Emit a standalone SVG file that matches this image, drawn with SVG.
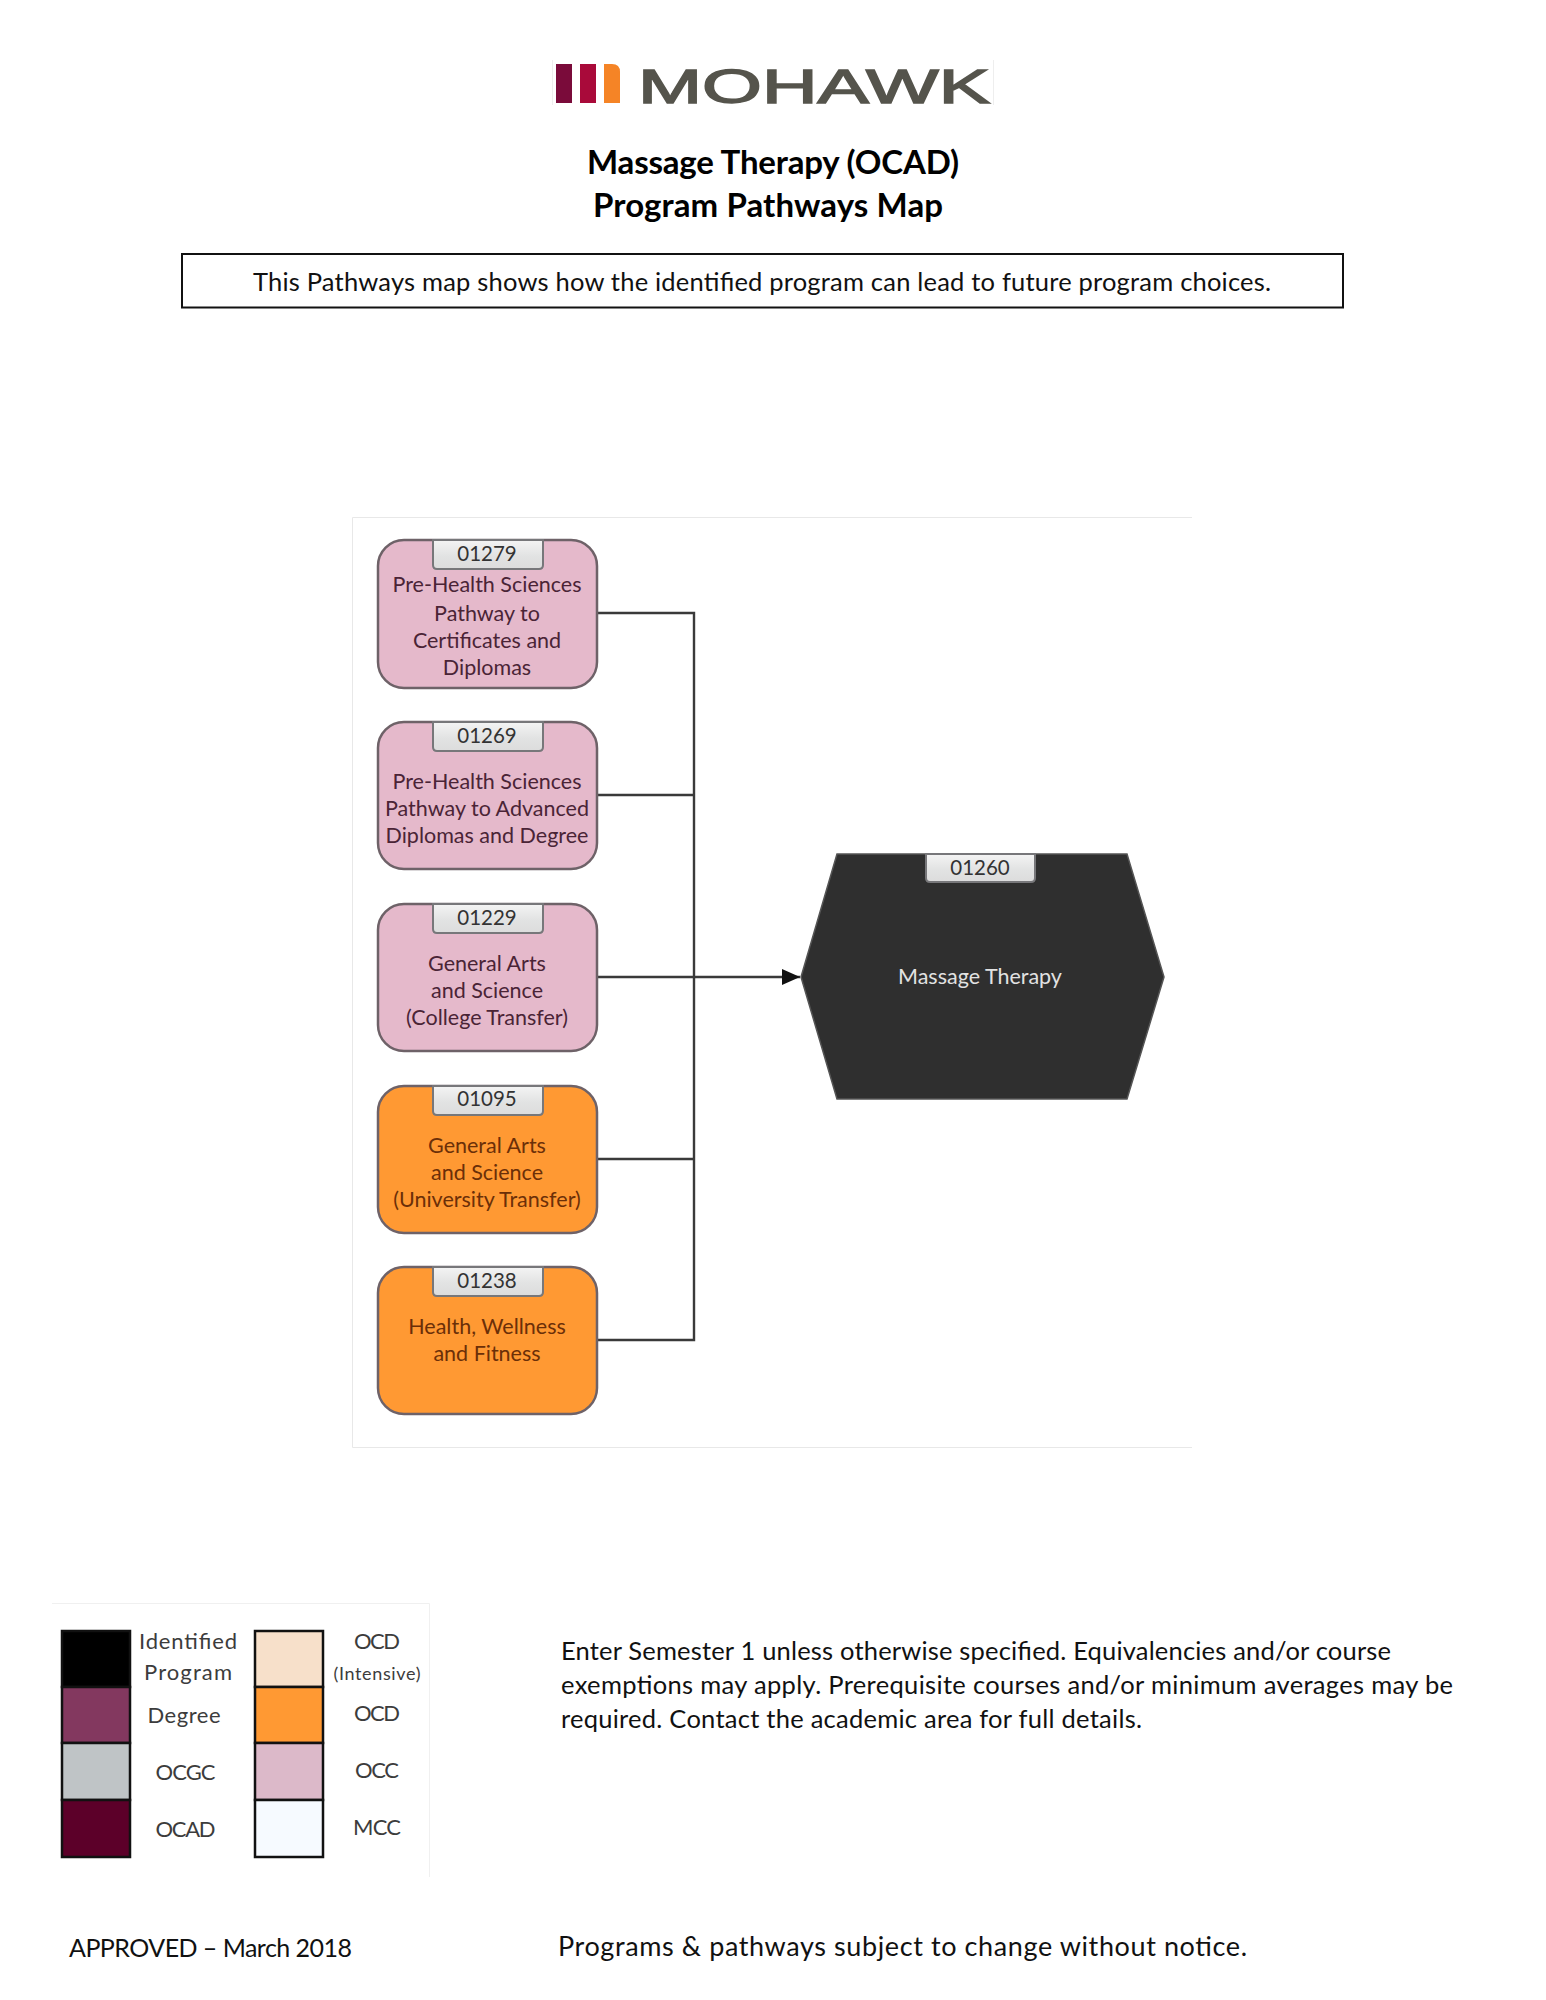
<svg xmlns="http://www.w3.org/2000/svg" width="1546" height="2000" viewBox="0 0 1546 2000">
<style>
text{font-family:Lato,"Liberation Sans",sans-serif}
.node{stroke:#6e6268;stroke-width:2.5}
.pink{fill:#e5b9cb}
.orange{fill:#ff9933}
.tab{fill:url(#tabg);stroke:#77777a;stroke-width:2}
.tabt{font-size:20.500px;fill:#333;text-anchor:middle}
.nt{font-size:21.500px;text-anchor:middle;fill:#4a2436}
.ot{font-size:21.500px;text-anchor:middle;fill:#6b2f08}
.conn{fill:none;stroke:#3a3a3a;stroke-width:2.4}
.sw{stroke:#111;stroke-width:2.5}
.lg{font-size:22px;fill:#3c3c3c;text-anchor:middle}
.body{font-size:25.500px;fill:#111}
.title{font-size:33px;font-weight:700;fill:#000;text-anchor:middle}
</style>
<defs>
<linearGradient id="tabg" x1="0" y1="0" x2="0" y2="1"><stop offset="0" stop-color="#f4f4f4"/><stop offset=".55" stop-color="#e2e3e3"/><stop offset="1" stop-color="#dcdcdc"/></linearGradient>
<marker id="arr" markerUnits="userSpaceOnUse" markerWidth="20" markerHeight="18" refX="19" refY="9" orient="auto"><path d="M1 1 L19 9 L1 17 Z" fill="#111"/></marker>
</defs>
<rect width="1546" height="2000" fill="#fff"/>
<g id="logo">
<path d="M552.500 60V105M993.500 60V105" stroke="#eeeeee" fill="none"/>
<rect x="556" y="64" width="16" height="39" fill="#7a0b3a"/>
<rect x="580" y="64" width="16" height="39" fill="#a90a3a"/>
<path d="M604 64H612Q620 64 620 72V103H604Z" fill="#f58426"/>
<text x="638" y="103" font-size="49" textLength="352" lengthAdjust="spacingAndGlyphs" style="font-family:'Liberation Sans',sans-serif" fill="#55544c" stroke="#55544c" stroke-width="1.500">MOHAWK</text>
</g>
<g id="title">
<text class="title" x="773" y="174" textLength="372">Massage Therapy (OCAD)</text>
<text class="title" x="768" y="217" textLength="350">Program Pathways Map</text>
</g>
<g id="intro">
<rect x="182" y="254" width="1161" height="53.500" fill="#fff" stroke="#111" stroke-width="2"/>
<text class="body" x="762" y="291" text-anchor="middle" textLength="1018">This Pathways map shows how the identified program can lead to future program choices.</text>
</g>
<path id="panel" d="M1192 517.500H352.500V1447.500H1192" fill="none" stroke="#e8e8e8"/>
<g id="connectors">
<path class="conn" d="M598 613H694V1340H598"/>
<path class="conn" d="M598 795H694M598 1159H694"/>
<path class="conn" d="M598 977H800" marker-end="url(#arr)"/>
</g>
<g id="n01279">
<rect class="node pink" x="378" y="540" width="219" height="148" rx="26"/>
<path class="tab" d="M433 540V565Q433 569 437 569H539Q543 569 543 565V540Z"/>
<text class="tabt" x="487" y="561">01279</text>
<text class="nt" x="487" y="592">Pre-Health Sciences</text>
<text class="nt" x="487" y="621">Pathway to</text>
<text class="nt" x="487" y="648">Certificates and</text>
<text class="nt" x="487" y="675">Diplomas</text>
</g>
<g id="n01269">
<rect class="node pink" x="378" y="722" width="219" height="147" rx="26"/>
<path class="tab" d="M433 722V747Q433 751 437 751H539Q543 751 543 747V722Z"/>
<text class="tabt" x="487" y="743">01269</text>
<text class="nt" x="487" y="789">Pre-Health Sciences</text>
<text class="nt" x="487" y="816">Pathway to Advanced</text>
<text class="nt" x="487" y="843">Diplomas and Degree</text>
</g>
<g id="n01229">
<rect class="node pink" x="378" y="904" width="219" height="147" rx="26"/>
<path class="tab" d="M433 904V929Q433 933 437 933H539Q543 933 543 929V904Z"/>
<text class="tabt" x="487" y="925">01229</text>
<text class="nt" x="487" y="971">General Arts</text>
<text class="nt" x="487" y="998">and Science</text>
<text class="nt" x="487" y="1025">(College Transfer)</text>
</g>
<g id="n01095">
<rect class="node orange" x="378" y="1086" width="219" height="147" rx="26"/>
<path class="tab" d="M433 1086V1111Q433 1115 437 1115H539Q543 1115 543 1111V1086Z"/>
<text class="tabt" x="487" y="1106">01095</text>
<text class="ot" x="487" y="1153">General Arts</text>
<text class="ot" x="487" y="1180">and Science</text>
<text class="ot" x="487" y="1207">(University Transfer)</text>
</g>
<g id="n01238">
<rect class="node orange" x="378" y="1267" width="219" height="147" rx="26"/>
<path class="tab" d="M433 1267V1292Q433 1296 437 1296H539Q543 1296 543 1292V1267Z"/>
<text class="tabt" x="487" y="1288">01238</text>
<text class="ot" x="487" y="1334">Health, Wellness</text>
<text class="ot" x="487" y="1361">and Fitness</text>
</g>
<g id="n01260">
<path d="M837 854H1127L1164 977L1127 1099H837L801 977Z" fill="#2f2f2f" stroke="#555" stroke-width="1.500"/>
<path class="tab" d="M926 854V878Q926 882 930 882H1031Q1035 882 1035 878V854Z"/>
<text class="tabt" x="980" y="875">01260</text>
<text x="980" y="984" font-size="21.500" text-anchor="middle" fill="#e2e2e2">Massage Therapy</text>
</g>
<g id="legend">
<path d="M52 1603.500H429.500V1877" fill="none" stroke="#f0f0f0"/>
<rect class="sw" x="62" y="1631" width="68" height="56" fill="#000"/>
<rect class="sw" x="62" y="1687" width="68" height="56" fill="#83385f"/>
<rect class="sw" x="62" y="1743" width="68" height="57" fill="#bfc4c6"/>
<rect class="sw" x="62" y="1800" width="68" height="57" fill="#5c0029"/>
<rect class="sw" x="255" y="1631" width="68" height="56" fill="#f7e0ca"/>
<rect class="sw" x="255" y="1687" width="68" height="56" fill="#ff9933"/>
<rect class="sw" x="255" y="1743" width="68" height="57" fill="#dcb9c9"/>
<rect class="sw" x="255" y="1800" width="68" height="57" fill="#f6faff"/>
<text class="lg" x="188" y="1649" textLength="98">Identified</text>
<text class="lg" x="188" y="1680" textLength="88">Program</text>
<text class="lg" x="184" y="1723" textLength="73">Degree</text>
<text class="lg" x="185.500" y="1780" textLength="60">OCGC</text>
<text class="lg" x="185.500" y="1837" textLength="60">OCAD</text>
<text class="lg" x="377" y="1649" textLength="46">OCD</text>
<text class="lg" x="377" y="1680" style="font-size:18px" textLength="87">(Intensive)</text>
<text class="lg" x="377" y="1721" textLength="46">OCD</text>
<text class="lg" x="377" y="1778" textLength="44">OCC</text>
<text class="lg" x="377" y="1835" textLength="48">MCC</text>
</g>
<g id="notes">
<text class="body" x="561" y="1660" textLength="830">Enter Semester 1 unless otherwise specified. Equivalencies and/or course</text>
<text class="body" x="561" y="1694" textLength="892">exemptions may apply. Prerequisite courses and/or minimum averages may be</text>
<text class="body" x="561" y="1728" textLength="581">required. Contact the academic area for full details.</text>
<text class="body" x="69" y="1957" textLength="283" style="font-size:25px">APPROVED – March 2018</text>
<text class="body" x="558" y="1956" textLength="689" style="font-size:27px">Programs &amp; pathways subject to change without notice.</text>
</g>
</svg>
